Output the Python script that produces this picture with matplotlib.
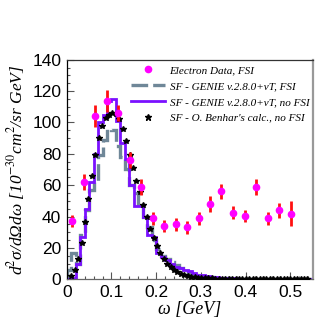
import matplotlib.pyplot as plt
import matplotlib.ticker as mticker
from matplotlib.lines import Line2D
import numpy as np

plt.rcParams['mathtext.fontset'] = 'stix'

# electron data (FSI)
data_w = [0.012, 0.038, 0.063, 0.089, 0.115, 0.141, 0.166, 0.192, 0.218, 0.244,
          0.269, 0.295, 0.320, 0.346, 0.372, 0.398, 0.423, 0.449, 0.475, 0.501]
data_xs = [37, 62, 104, 113.5, 106, 76, 59, 38.8, 34, 35,
           33, 38.8, 48, 56, 42.4, 40.3, 59, 38.8, 43.9, 41.8]
data_err = [4, 5, 7, 7, 5, 5, 5, 4, 4, 4,
            4, 4, 5, 5, 4, 4, 5, 4, 5, 8]

# GENIE histograms, 0.01 GeV bins from 0 to 0.55
edges = np.round(np.arange(0, 0.5501, 0.01), 3)
genie_fsi = [6, 17, 10, 28, 44, 57, 62, 79, 89, 96,
             95, 85, 78, 70, 60, 55, 47, 40, 33, 25,
             19, 15, 13, 11, 9, 7, 5, 4, 3, 2.5,
             2, 1.5, 1.2, 1, 0.8, 0.6, 0.5, 0.4, 0.3, 0.2,
             0.2, 0.1, 0.1, 0.1, 0, 0, 0, 0, 0, 0,
             0, 0, 0, 0, 0]
genie_nofsi = [0, 1, 10, 27, 45, 62, 80, 100, 105, 114,
               115, 101, 87, 77, 60, 47, 47, 40, 28, 27,
               17, 14, 12, 10, 8, 7, 6, 5, 4, 3,
               2.5, 2, 1.5, 1.2, 1, 0.8, 0.6, 0.5, 0.4, 0.3,
               0.2, 0.1, 0.1, 0.1, 0, 0, 0, 0, 0, 0,
               0, 0, 0, 0, 0]

# Benhar calculation
benhar_xs = [2.1, 6, 12.9, 23.1, 36.4, 51, 66, 79.3, 90, 97.7,
             103, 105, 106.3, 105.7, 102, 96, 87.9, 79.3, 71.2, 62.8,
             55.7, 47.4, 39.7, 32.2, 26.4, 21, 16.7, 12.9, 9.9, 7.5,
             5.6, 4.3, 3.2, 2.4, 1.9, 1.5, 1.2, 1.0, 0.8, 0.7,
             0.6, 0.5, 0.4, 0.4, 0.3, 0.3, 0.3, 0.2, 0.2, 0.2,
             0.2, 0.1, 0.1, 0.1, 0.1, 0.1, 0.1, 0.1, 0.1, 0.1,
             0.1, 0.1, 0.1, 0.1, 0.1, 0.1, 0.1, 0.1, 0.1, 0.1]
benhar_w = 0.0104 + 0.00765 * np.arange(len(benhar_xs))

serif = 'Liberation Serif'
sans = 'Liberation Sans'
c_fsi = '#6f8798'
c_nofsi = '#7a10ff'

fig = plt.figure(figsize=(3.32, 3.32), dpi=100)
ax = fig.add_axes([0.201, 0.159, 0.741, 0.661])

ax.stairs(genie_fsi, edges, color=c_fsi, lw=2.4, ls=(0, (5, 1.5)), zorder=2)
ax.stairs(genie_nofsi, edges, color=c_nofsi, lw=2.0, zorder=2.5)
ax.plot(benhar_w, benhar_xs, ls='none', marker='*', ms=4, color='black', zorder=3)
ax.errorbar(data_w, data_xs, yerr=data_err, fmt='o', ms=4.5, color='#ff00ff',
            ecolor='#ff1010', elinewidth=2.0, capsize=0, zorder=4)

ax.set_xlim(0, 0.55)
ax.set_ylim(0, 140)

ax.xaxis.set_major_locator(mticker.FixedLocator([0, 0.1, 0.2, 0.3, 0.4, 0.5]))
ax.xaxis.set_major_formatter(mticker.FixedFormatter(['0', '0.1', '0.2', '0.3', '0.4', '0.5']))
ax.xaxis.set_minor_locator(mticker.MultipleLocator(0.02))
ax.yaxis.set_major_locator(mticker.MultipleLocator(20))
ax.yaxis.set_minor_locator(mticker.MultipleLocator(5))
ax.tick_params(which='both', direction='in', top=False, right=False, color='#555555')
ax.tick_params(which='major', length=5, width=0.8, labelsize=12.5, pad=4)
ax.tick_params(which='minor', length=2.5, width=0.8)
for lab in ax.get_xticklabels() + ax.get_yticklabels():
    lab.set_fontfamily(sans)

ax.spines['left'].set_color('black')
ax.spines['bottom'].set_color('#666666')
ax.spines['top'].set_color('#333333')
ax.spines['right'].set_color('#999999')
ax.spines['right'].set_linewidth(1.6)
for s in ['left', 'bottom', 'top']:
    ax.spines[s].set_linewidth(0.9)

ax.set_xlabel('ω [GeV]', fontsize=13, fontfamily=serif, fontstyle='italic', labelpad=1)
ax.set_ylabel('d$^{2}$σ/dΩdω [10$^{-30}$cm$^{2}$/sr GeV]',
              fontsize=12.5, fontfamily=serif, fontstyle='italic', labelpad=4)

handles = [Line2D([], [], ls='none', marker='o', ms=4.5, color='#ff00ff'),
           Line2D([], [], color=c_fsi, lw=2.4, ls=(0, (5, 1.5))),
           Line2D([], [], color=c_nofsi, lw=2.0),
           Line2D([], [], ls='none', marker='*', ms=4.5, color='black')]
labels = ['Electron Data, FSI',
          'SF - GENIE v.2.8.0+νT, FSI',
          'SF - GENIE v.2.8.0+νT, no FSI',
          "SF - O. Benhar's calc., no FSI"]
leg = ax.legend(handles, labels,
                loc='upper left', bbox_to_anchor=(0.26, 0.975), frameon=False,
                prop={'family': serif, 'style': 'italic', 'size': 8},
                handlelength=3.1, handletextpad=0.4, labelspacing=0.55,
                borderpad=0, borderaxespad=0)

fig.savefig('out.png', dpi=100)
